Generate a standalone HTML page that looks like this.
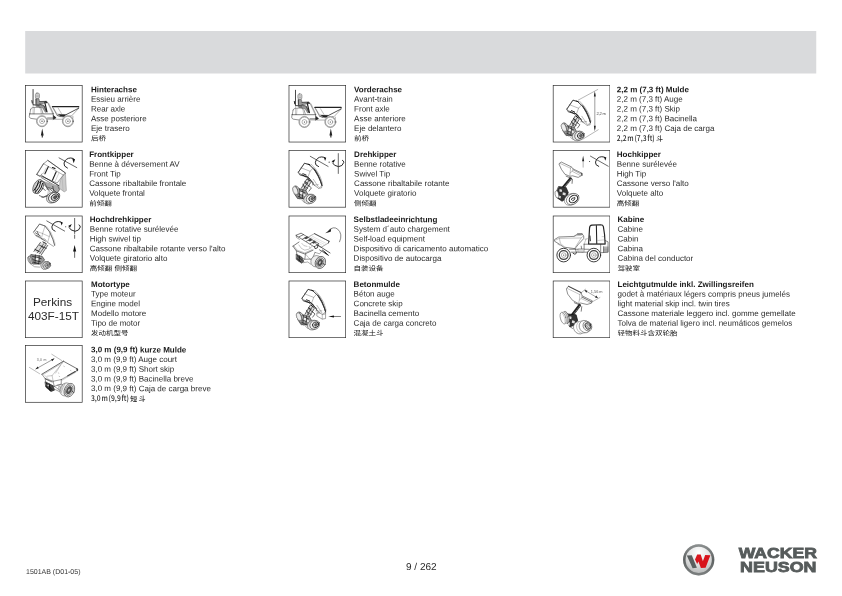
<!DOCTYPE html>
<html><head><meta charset="utf-8">
<style>
html,body{margin:0;padding:0;background:#fff;}
body{width:842px;height:596px;position:relative;overflow:hidden;font-family:"Liberation Sans","Noto Sans CJK SC",sans-serif;color:#222;}
.bar{position:absolute;left:25.3px;top:31px;width:790.7px;height:42.6px;background:#d9dadc;}
.box{position:absolute;width:56.5px;height:56.5px;border:0.65px solid #2a2a2a;background:#fff;box-sizing:content-box;}
.ic{will-change:transform;position:absolute;width:58px;height:58px;overflow:hidden;}
.l{position:absolute;left:0;top:0;height:10px;font-size:8.03px;line-height:10px;white-space:nowrap;color:#2a2a2a;transform-origin:0 0;}
.l b{color:#1a1a1a;}
.l.cn{font-size:7.5px;color:#111;font-weight:400;}
.l.cn2{font-family:"Noto Sans CJK SC",sans-serif;}
.l.cn2 .la{font-size:8px;display:inline-block;transform:scaleX(0.845);transform-origin:0 50%;margin-right:-6.6px;white-space:pre;font-weight:500;word-spacing:-0.9px;}
.l.cn2 .cj{font-size:7px;letter-spacing:1.3px;font-weight:500;}
.foot1{position:absolute;left:25.7px;top:567.6px;font-size:7px;line-height:8px;color:#333;white-space:nowrap;transform:rotate(0.03deg);transform-origin:0 0;}
.foot2{position:absolute;left:406.2px;top:561.1px;font-size:10px;line-height:12px;color:#2a2a2a;white-space:nowrap;transform:rotate(0.03deg);transform-origin:0 0;}
</style></head><body>
<svg style="position:absolute;left:0;top:0" width="842" height="100" viewBox="0 0 842 100"><rect x="25.2" y="31" width="791.05" height="42.5" fill="#d9dadc"/></svg>
<div id="wrap" style="position:absolute;left:0;top:0;width:842px;height:596px;will-change:opacity;opacity:0.999">
<svg class="ic" viewBox="0 0 596 596" style="left:25px;top:85px"><rect x="5.0" y="3.5" width="582.6" height="582.6" fill="#fff" stroke="#2a2a2a" stroke-width="7"/><g fill="none" stroke="#222" stroke-width="5" stroke-linecap="round" stroke-linejoin="round">
<!-- ROPS -->
<path d="M83 46V200" stroke-width="10" stroke="#444"/>
<path d="M83 200V296" stroke-width="4" stroke="#777"/>
<path d="M71 160l4 26" stroke-width="10" stroke="#222"/>
<!-- driver -->
<rect x="107" y="83" width="42" height="56" rx="16" fill="#ddd" stroke="#555" stroke-width="5"/>
<path d="M116 104h24M118 120h20" stroke="#666" stroke-width="4"/>
<path d="M112 142h32l6 30 70-4 8 14-74 12 4 10 40 14 24 56-14 6-26-44-64-14z" fill="#999" stroke="#333" stroke-width="4"/>
<path d="M114 146v50" stroke="#222" stroke-width="7"/>
<path d="M150 170l68-2" stroke="#222" stroke-width="6"/>
<path d="M150 196l44 14 26 60" stroke="#222" stroke-width="7"/>
<path d="M86 204l60 3" stroke-width="9"/>
<path d="M208 172l16 8" stroke-width="12"/>
<!-- steering column / dash -->
<path d="M204 180l22 96" stroke-width="12"/>
<path d="M228 172l58 124M242 186l50 106" stroke-width="4" stroke="#333"/>
<!-- hood -->
<path d="M58 250q4-16 22-18l64-4q16 0 26 18l14 46" stroke="#333"/>
<path d="M98 234l-4 62M150 230q16 16 18 66" stroke-width="4" stroke="#666"/>
<path d="M58 250l-8 46" stroke="#333"/>
<!-- lower body -->
<path d="M48 297H290" stroke-width="6"/>
<path d="M48 297l-4 26q0 14 16 20l56 8M228 350h62v-53M232 338h58" />
<path d="M290 312l30 25-30 18" fill="#222"/>
<!-- rear wheel -->
<circle cx="175" cy="372" r="57" fill="#fff" stroke-width="4"/>
<circle cx="175" cy="372" r="50" stroke-width="4" stroke="#444"/>
<circle cx="175" cy="372" r="25" stroke-width="4" stroke="#444"/>
<circle cx="175" cy="372" r="6" fill="#222" stroke="none"/>
<!-- skip -->
<path d="M282 222H552" stroke-width="12"/>
<path d="M552 226l-4 18-70 74-16 0" stroke-width="4" stroke="#333"/>
<path d="M552 238L424 304" stroke-width="8"/>
<path d="M282 226L330 312L362 324" stroke-width="5" stroke="#333"/>
<path d="M292 236l40 66M340 236l34 56" stroke-width="4" stroke="#555"/>
<path d="M340 300l84 4-24 22-34-4z" fill="#222" stroke-width="3"/>
<path d="M330 314l60 16M302 322v30h90M492 322v20" stroke-width="4" stroke="#333"/>
<!-- front wheel -->
<circle cx="441" cy="372" r="57" fill="#fff" stroke-width="4"/>
<circle cx="441" cy="372" r="50" stroke-width="4" stroke="#444"/>
<circle cx="441" cy="372" r="25" stroke-width="4" stroke="#444"/>
<circle cx="441" cy="372" r="6" fill="#222" stroke="none"/>
</g>
<path d="M177 448L163 520H172V540H183V520H192Z" fill="#222" stroke="none"/></svg>
<div class="l" style="transform:translate(91.00px,85.15px) rotate(0.03deg)"><b>Hinterachse</b></div><div class="l" style="transform:translate(91.00px,94.84px) rotate(0.03deg)">Essieu arrière</div><div class="l" style="transform:translate(91.00px,104.53px) rotate(0.03deg)">Rear axle</div><div class="l" style="transform:translate(91.00px,114.22px) rotate(0.03deg)">Asse posteriore</div><div class="l" style="transform:translate(91.00px,123.91px) rotate(0.03deg)">Eje trasero</div><div class="l cn" style="transform:translate(91.00px,134.55px) rotate(0.03deg) scale(1,0.9)">后桥</div>
<svg class="ic" viewBox="0 0 596 596" style="left:25px;top:150px"><rect x="5.0" y="5.0" width="582.6" height="582.6" fill="#fff" stroke="#2a2a2a" stroke-width="7"/><g fill="none" stroke="#333" stroke-width="5" stroke-linecap="round" stroke-linejoin="round">
<g fill="none" stroke="#222" stroke-linecap="round">
<path d="M350 81L532 181" stroke-width="7"/>
<path d="M436 186Q393 168 401 134Q418 83 470 82Q490 82 503 95" stroke-width="10"/>
<path d="M484 86l30 10-13 40z" fill="#111" stroke="none"/>
</g>

<g transform="translate(61.66,71.93) scale(0.8621)" stroke-width="6">
<!-- side panel -->
<path d="M385 215L410 190L422 400L396 416L336 372L346 290Z" fill="#ccc" stroke="#777" stroke-width="5"/>
<path d="M372 250l10 150" stroke="#999" stroke-width="4"/>
<!-- skip plate -->
<path d="M150 80L200 40L410 190L385 215L312 310L70 210Z" fill="#fff" stroke="#333" stroke-width="6"/>
<path d="M150 80L385 215" stroke="#444" stroke-width="5"/>
<path d="M200 40L410 190" stroke="#222" stroke-width="7"/>
<path d="M70 210L106 232L132 200M150 80L70 210" stroke="#333" stroke-width="6"/>
<path d="M206 116L166 200" stroke="#222" stroke-width="14" stroke-dasharray="12 6"/>
<path d="M300 176L256 276" stroke="#222" stroke-width="14" stroke-dasharray="12 6"/>
<path d="M256 126l30 12" stroke="#111" stroke-width="13"/>
<path d="M130 224L330 340" stroke="#111" stroke-width="10"/>
<path d="M120 244L312 356" stroke="#333" stroke-width="7"/>
<path d="M180 130l-36 70M330 196l-40 90" stroke="#777" stroke-width="4"/>
<!-- chassis -->
<path d="M150 290l40 70 70 20 50 50 30-40-20-50" fill="#aaa" stroke="#222" stroke-width="7"/>
<path d="M160 330l70 90-40 50-60 10M190 380q30-10 60 20t-10 60M140 300l-10 60 40 40M260 350l10 60 60 30" stroke="#222" stroke-width="8"/>
<path d="M200 400l40 20-10 30-40-10z" fill="#ddd" stroke="none"/>
<!-- left wheel -->
<g transform="rotate(27 90 356)">
<ellipse cx="80" cy="356" rx="50" ry="90" fill="#ccc" stroke="#333" stroke-width="7"/>
<ellipse cx="104" cy="356" rx="38" ry="82" fill="#ddd" stroke="#222" stroke-width="7"/>
<path d="M60 296q20 56 0 124M86 282q26 70 0 150M114 296q18 56 0 124" stroke="#111" stroke-width="10"/>
</g>
<path d="M100 460l50 20 50-30" stroke="#333" stroke-width="8"/>
<!-- front wheel -->
<g transform="rotate(-34 270 482)">
<ellipse cx="258" cy="476" rx="78" ry="60" fill="#ddd" stroke="#444" stroke-width="6"/>
<ellipse cx="276" cy="484" rx="72" ry="56" fill="#f2f2f2" stroke="#222" stroke-width="8"/>
<ellipse cx="284" cy="488" rx="48" ry="36" fill="#ccc" stroke="#222" stroke-width="9"/>
<ellipse cx="288" cy="490" rx="24" ry="17" fill="#555" stroke="#222" stroke-width="5"/>
</g>
</g>
</g></svg>
<div class="l" style="transform:translate(89.20px,150.00px) rotate(0.03deg)"><b>Frontkipper</b></div><div class="l" style="transform:translate(89.20px,159.69px) rotate(0.03deg)">Benne à déversement AV</div><div class="l" style="transform:translate(89.20px,169.38px) rotate(0.03deg)">Front Tip</div><div class="l" style="transform:translate(89.20px,179.07px) rotate(0.03deg)">Cassone ribaltabile frontale</div><div class="l" style="transform:translate(89.20px,188.76px) rotate(0.03deg)">Volquete frontal</div><div class="l cn" style="transform:translate(89.20px,199.40px) rotate(0.03deg) scale(1,0.9)">前倾翻</div>
<svg class="ic" viewBox="0 0 596 596" style="left:25px;top:215px"><rect x="5.0" y="10.2" width="582.6" height="582.6" fill="#fff" stroke="#2a2a2a" stroke-width="7"/><g fill="none" stroke="#333" stroke-width="5" stroke-linecap="round" stroke-linejoin="round">
<g transform="translate(-5,-4)"><g fill="none" stroke="#222" stroke-linecap="round">
<path d="M229 65L412 169" stroke-width="7"/>
<path d="M314 171Q274 156 281 126Q296 73 346 71Q372 71 384 84" stroke-width="10"/>
<path d="M368 72l25 8-12 33z" fill="#111" stroke="none"/>
<circle cx="423" cy="125" r="6" fill="#333" stroke="none"/>
<path d="M458 134Q470 164 520 171Q562 168 573 128Q575 112 560 106" stroke-width="10"/>
<path d="M448 116l38-20-17 36z" fill="#111" stroke="none"/>
</g>
<path d="M515 39V194M515 210V244" stroke="#222" stroke-width="7"/></g>
<!-- arrow -->
<path d="M510 436V360" stroke="#222" stroke-width="7"/>
<path d="M510 308l-16 68h32z" fill="#111" stroke="none"/>
<g transform="translate(20.55,61.66) scale(0.8613)" stroke-width="6">
<!-- skip -->
<path d="M80 130L150 36L215 60L270 130L310 220L330 290L315 302L245 256L215 216L170 210L110 180Z" fill="#fff" stroke="#555" stroke-width="6"/>
<path d="M80 130L150 36L215 60" stroke="#444" stroke-width="7"/>
<path d="M215 60L270 130L310 220L330 290" stroke="#444" stroke-width="7"/>
<path d="M232 62L284 130L322 220L338 280" stroke="#888" stroke-width="4"/>
<path d="M215 60L186 150L104 118M186 150L266 186L246 256M266 186L276 142M186 150L172 210" stroke="#777" stroke-width="5"/>
<path d="M100 140l60 40M110 170l50 26M120 124l20 40" stroke="#333" stroke-width="8"/>
<path d="M170 210l50 30" stroke="#333" stroke-width="8"/>
<!-- arms -->
<path d="M156 250L250 290L176 402L78 364Z" fill="#ddd" stroke="none"/>
<path d="M160 256L82 362M248 290L172 402M200 270L124 380M226 280L150 392" stroke="#333" stroke-width="8"/>
<path d="M150 290l80 36M170 300l30 24" stroke="#222" stroke-width="9"/>
<path d="M96 340l50 24M190 250l40 20" stroke="#111" stroke-width="11"/>
<!-- chassis -->
<path d="M50 400l130 20 30 44-50 50-90 0-40-60z" fill="#999" stroke="#222" stroke-width="7"/>
<path d="M60 420l110 30M50 456l110 30M100 404l-4 100M146 414l-6 96M70 490l70 20" stroke="#111" stroke-width="8"/>
<path d="M108 436l30 8-4 28-30-8z" fill="#eee" stroke="none"/>
<g transform="rotate(-20 40 462)">
<ellipse cx="40" cy="462" rx="28" ry="48" fill="#ccc" stroke="#444" stroke-width="6"/>
<path d="M30 430q10 30 0 62M50 424q10 38 0 76" stroke="#444" stroke-width="6"/>
</g>
<path d="M40 510l50 36 60 4" stroke="#555" stroke-width="6"/>
<g transform="rotate(-30 230 528)">
<ellipse cx="216" cy="522" rx="52" ry="44" fill="#ddd" stroke="#444" stroke-width="6"/>
<ellipse cx="236" cy="530" rx="48" ry="42" fill="#eee" stroke="#333" stroke-width="7"/>
<ellipse cx="242" cy="533" rx="32" ry="27" fill="#bbb" stroke="#333" stroke-width="7"/>
<ellipse cx="245" cy="535" rx="15" ry="12" fill="#666" stroke="none"/>
</g>
</g>
</g></svg>
<div class="l" style="transform:translate(89.80px,215.10px) rotate(0.03deg)"><b>Hochdrehkipper</b></div><div class="l" style="transform:translate(89.80px,224.79px) rotate(0.03deg)">Benne rotative surélevée</div><div class="l" style="transform:translate(89.80px,234.48px) rotate(0.03deg)">High swivel tip</div><div class="l" style="transform:translate(89.80px,244.17px) rotate(0.03deg)">Cassone ribaltabile rotante verso l'alto</div><div class="l" style="transform:translate(89.80px,253.86px) rotate(0.03deg)">Volquete giratorio alto</div><div class="l cn" style="transform:translate(89.80px,264.50px) rotate(0.03deg) scale(1,0.9)">高倾翻 侧倾翻</div>
<svg class="ic" viewBox="0 0 596 596" style="left:25px;top:280px"><rect x="5.0" y="10.2" width="582.6" height="582.6" fill="#fff" stroke="#2a2a2a" stroke-width="7"/><g font-family="Liberation Sans, sans-serif" font-size="121" fill="#2a2a2a" text-anchor="middle"><text x="283" y="272">Perkins</text><text x="292" y="415">403F-15T</text></g>
</svg>
<div class="l" style="transform:translate(91.00px,279.90px) rotate(0.03deg)"><b>Motortype</b></div><div class="l" style="transform:translate(91.00px,289.59px) rotate(0.03deg)">Type moteur</div><div class="l" style="transform:translate(91.00px,299.28px) rotate(0.03deg)">Engine model</div><div class="l" style="transform:translate(91.00px,308.97px) rotate(0.03deg)">Modello motore</div><div class="l" style="transform:translate(91.00px,318.66px) rotate(0.03deg)">Tipo de motor</div><div class="l cn" style="transform:translate(91.00px,329.30px) rotate(0.03deg) scale(1,0.9)">发动机型号</div>
<svg class="ic" viewBox="0 0 596 596" style="left:25px;top:345px"><rect x="5.0" y="6.1" width="582.6" height="582.6" fill="#fff" stroke="#2a2a2a" stroke-width="7"/><g fill="none" stroke="#333" stroke-width="5" stroke-linecap="round" stroke-linejoin="round">
<path d="M275 95L378 160M45 230L150 295" stroke="#555" stroke-width="4"/>
<path d="M112 246L298 141" stroke="#333" stroke-width="5"/>
<path d="M108 248l34-8-12-20zM302 139l-34 8 12 20z" fill="#222" stroke="none"/>
<text x="120" y="163" font-family="Liberation Sans, sans-serif" font-size="36" fill="#666" stroke="none" textLength="100">3,0 m</text>
<g transform="translate(133.6,133.6) scale(0.7242)" stroke-width="7">
<!-- skip -->
<path d="M55 230L360 45L560 156L562 176L330 306L330 370L230 402L110 340L100 290Z" fill="#fff" stroke="none"/>
<path d="M55 230L360 45" stroke="#222" stroke-width="10"/>
<path d="M72 236L352 66" stroke="#666" stroke-width="5"/>
<path d="M360 45L560 156" stroke="#222" stroke-width="9"/>
<path d="M552 150l14 8-4 26-14-8z" fill="#222" stroke="#222" stroke-width="6"/>
<path d="M528 192L420 254" stroke="#444" stroke-width="16" stroke-dasharray="4 8"/>
<path d="M562 176L330 306" stroke="#444" stroke-width="7"/>
<path d="M540 200L340 316" stroke="#777" stroke-width="5"/>
<path d="M55 230L100 290L215 330L330 306" stroke="#333" stroke-width="7"/>
<path d="M360 50L200 250L215 330M200 250L130 258M322 100L250 214M100 250l40 40" stroke="#666" stroke-width="5"/>
<path d="M366 116l8 4M288 212l8 4M300 260l8 4M460 176l8 4" stroke="#777" stroke-width="6"/>
<path d="M100 290L110 340L230 402L330 370L330 306M215 330L230 402" stroke="#333" stroke-width="7"/>
<path d="M110 300l90 40" stroke="#222" stroke-width="9"/>
<!-- chassis -->
<path d="M104 340l110 56 20 60-50 20-70-60z" fill="#444" stroke="#111" stroke-width="8"/>
<path d="M120 360l80 90M110 400l70 60M160 370l10 90" stroke="#000" stroke-width="9"/>
<path d="M136 372l20 12-4 20-20-12z" fill="#ccc" stroke="none"/>
<path d="M230 402L330 470M270 386L380 372M230 440l80 40" stroke="#444" stroke-width="7"/>
<path d="M300 400l50 30-10 40-50-20z" fill="#ddd" stroke="#555" stroke-width="5"/>
<!-- wheel -->
<g transform="rotate(24 430 452)">
<ellipse cx="392" cy="462" rx="76" ry="96" fill="#eee" stroke="#444" stroke-width="6"/>
<ellipse cx="446" cy="450" rx="70" ry="100" fill="#f6f6f6" stroke="#222" stroke-width="8"/>
<ellipse cx="444" cy="451" rx="50" ry="78" fill="#ddd" stroke="#333" stroke-width="7"/>
<ellipse cx="442" cy="452" rx="32" ry="56" fill="#555" stroke="#222" stroke-width="6"/>
<ellipse cx="440" cy="453" rx="10" ry="20" fill="#ccc" stroke="none"/>
<path d="M330 420q-8 40 4 90M350 390q-10 60 4 140" stroke="#666" stroke-width="5"/>
</g>
</g>
</g>
</svg>
<div class="l" style="transform:translate(91.00px,345.35px) rotate(0.03deg)"><b>3,0 m (9,9 ft) kurze Mulde</b></div><div class="l" style="transform:translate(91.00px,355.04px) rotate(0.03deg)">3,0 m (9,9 ft) Auge court</div><div class="l" style="transform:translate(91.00px,364.73px) rotate(0.03deg)">3,0 m (9,9 ft) Short skip</div><div class="l" style="transform:translate(91.00px,374.42px) rotate(0.03deg)">3,0 m (9,9 ft) Bacinella breve</div><div class="l" style="transform:translate(91.00px,384.11px) rotate(0.03deg)">3,0 m (9,9 ft) Caja de carga breve</div><div class="l cn2" style="transform:translate(91.00px,393.40px) rotate(0.03deg)"><span class="la">3,0 m (9,9 ft) </span><span class="cj">短斗</span></div>
<svg class="ic" viewBox="0 0 596 596" style="left:288px;top:85px"><rect x="10.2" y="3.5" width="582.6" height="582.6" fill="#fff" stroke="#2a2a2a" stroke-width="7"/><g transform="translate(-6,8)"><g fill="none" stroke="#222" stroke-width="5" stroke-linecap="round" stroke-linejoin="round">
<!-- ROPS -->
<path d="M83 46V200" stroke-width="10" stroke="#444"/>
<path d="M83 200V296" stroke-width="4" stroke="#777"/>
<path d="M71 160l4 26" stroke-width="10" stroke="#222"/>
<!-- driver -->
<rect x="107" y="83" width="42" height="56" rx="16" fill="#ddd" stroke="#555" stroke-width="5"/>
<path d="M116 104h24M118 120h20" stroke="#666" stroke-width="4"/>
<path d="M112 142h32l6 30 70-4 8 14-74 12 4 10 40 14 24 56-14 6-26-44-64-14z" fill="#999" stroke="#333" stroke-width="4"/>
<path d="M114 146v50" stroke="#222" stroke-width="7"/>
<path d="M150 170l68-2" stroke="#222" stroke-width="6"/>
<path d="M150 196l44 14 26 60" stroke="#222" stroke-width="7"/>
<path d="M86 204l60 3" stroke-width="9"/>
<path d="M208 172l16 8" stroke-width="12"/>
<!-- steering column / dash -->
<path d="M204 180l22 96" stroke-width="12"/>
<path d="M228 172l58 124M242 186l50 106" stroke-width="4" stroke="#333"/>
<!-- hood -->
<path d="M58 250q4-16 22-18l64-4q16 0 26 18l14 46" stroke="#333"/>
<path d="M98 234l-4 62M150 230q16 16 18 66" stroke-width="4" stroke="#666"/>
<path d="M58 250l-8 46" stroke="#333"/>
<!-- lower body -->
<path d="M48 297H290" stroke-width="6"/>
<path d="M48 297l-4 26q0 14 16 20l56 8M228 350h62v-53M232 338h58" />
<path d="M290 312l30 25-30 18" fill="#222"/>
<!-- rear wheel -->
<circle cx="175" cy="372" r="57" fill="#fff" stroke-width="4"/>
<circle cx="175" cy="372" r="50" stroke-width="4" stroke="#444"/>
<circle cx="175" cy="372" r="25" stroke-width="4" stroke="#444"/>
<circle cx="175" cy="372" r="6" fill="#222" stroke="none"/>
<!-- skip -->
<path d="M282 222H552" stroke-width="12"/>
<path d="M552 226l-4 18-70 74-16 0" stroke-width="4" stroke="#333"/>
<path d="M552 238L424 304" stroke-width="8"/>
<path d="M282 226L330 312L362 324" stroke-width="5" stroke="#333"/>
<path d="M292 236l40 66M340 236l34 56" stroke-width="4" stroke="#555"/>
<path d="M340 300l84 4-24 22-34-4z" fill="#222" stroke-width="3"/>
<path d="M330 314l60 16M302 322v30h90M492 322v20" stroke-width="4" stroke="#333"/>
<!-- front wheel -->
<circle cx="441" cy="372" r="57" fill="#fff" stroke-width="4"/>
<circle cx="441" cy="372" r="50" stroke-width="4" stroke="#444"/>
<circle cx="441" cy="372" r="25" stroke-width="4" stroke="#444"/>
<circle cx="441" cy="372" r="6" fill="#222" stroke="none"/>
</g>
</g><path d="M177 448L163 520H172V540H183V520H192Z" transform="translate(263,0)" fill="#222" stroke="none"/></svg>
<div class="l" style="transform:translate(354.10px,85.15px) rotate(0.03deg)"><b>Vorderachse</b></div><div class="l" style="transform:translate(354.10px,94.84px) rotate(0.03deg)">Avant-train</div><div class="l" style="transform:translate(354.10px,104.53px) rotate(0.03deg)">Front axle</div><div class="l" style="transform:translate(354.10px,114.22px) rotate(0.03deg)">Asse anteriore</div><div class="l" style="transform:translate(354.10px,123.91px) rotate(0.03deg)">Eje delantero</div><div class="l cn" style="transform:translate(354.10px,134.55px) rotate(0.03deg) scale(1,0.9)">前桥</div>
<svg class="ic" viewBox="0 0 596 596" style="left:288px;top:150px"><rect x="10.2" y="5.0" width="582.6" height="582.6" fill="#fff" stroke="#2a2a2a" stroke-width="7"/><g fill="none" stroke="#333" stroke-width="5" stroke-linecap="round" stroke-linejoin="round">
<g fill="none" stroke="#222" stroke-linecap="round">
<path d="M229 65L412 169" stroke-width="7"/>
<path d="M314 171Q274 156 281 126Q296 73 346 71Q372 71 384 84" stroke-width="10"/>
<path d="M368 72l25 8-12 33z" fill="#111" stroke="none"/>
<circle cx="423" cy="125" r="6" fill="#333" stroke="none"/>
<path d="M458 134Q470 164 520 171Q562 168 573 128Q575 112 560 106" stroke-width="10"/>
<path d="M448 116l38-20-17 36z" fill="#111" stroke="none"/>
</g>
<path d="M517 37V241" stroke="#222" stroke-width="7"/>
<g transform="translate(20.55,102.8) scale(0.8274)" fill="none" stroke="#333" stroke-width="6" stroke-linecap="round" stroke-linejoin="round">
<!-- skip body -->
<path d="M105 150L180 40L240 58Q310 110 350 200Q385 270 398 318L392 346L356 352L300 312L225 212L125 186Z" fill="#fff" stroke="#444" stroke-width="6"/>
<path d="M105 150L180 40L240 58" stroke="#222" stroke-width="9"/>
<path d="M226 52l20 8" stroke="#111" stroke-width="12"/>
<path d="M240 58Q310 110 350 200Q385 270 398 318" stroke="#222" stroke-width="9"/>
<path d="M262 52Q328 108 372 200Q396 262 404 300" stroke="#555" stroke-width="5"/>
<path d="M300 112Q340 160 372 240Q390 290 396 316" stroke="#333" stroke-width="14" stroke-dasharray="4 7"/>
<path d="M135 96L250 140L290 96M250 140L226 204" stroke="#555" stroke-width="5"/>
<path d="M105 150L125 186L225 212L300 312" stroke="#333" stroke-width="7"/>
<path d="M290 240L352 332M398 318L356 352M300 312l50-6" stroke="#555" stroke-width="5"/>
<path d="M150 182l50 30M160 170l40 16M200 196l40 40" stroke="#111" stroke-width="11"/>
<path d="M130 170l24 26M236 224l40 50M220 230l30 50" stroke="#222" stroke-width="8"/>
<path d="M250 250l40 30-10 30" stroke="#444" stroke-width="7"/>
<!-- arms -->
<path d="M200 236L262 276L200 384L134 352Z" fill="#ddd" stroke="none"/>
<path d="M206 240L140 352M256 280L196 380M232 258L170 360" stroke="#333" stroke-width="9"/>
<path d="M190 290l50 34M176 324l44 28M236 320l30 26-30 40M160 300l30 60" stroke="#222" stroke-width="8"/>
<path d="M214 236l36 26M186 270l30 20" stroke="#111" stroke-width="11"/>
<!-- chassis -->
<path d="M84 352l110 24 30 50-50 50-80 4-40-60z" fill="#999" stroke="#222" stroke-width="7"/>
<path d="M96 372l90 36M86 408l100 40M120 360l-4 100M160 372l-6 100M100 450l60 30" stroke="#111" stroke-width="8"/>
<path d="M128 390l28 10-4 30-28-8zM168 420l24 8-4 24-24-8z" fill="#eee" stroke="none"/>
<!-- left wheel -->
<g transform="translate(12,-16) rotate(-20 66 392)">
<ellipse cx="66" cy="392" rx="40" ry="56" fill="#ccc" stroke="#333" stroke-width="6"/>
<ellipse cx="56" cy="392" rx="30" ry="50" fill="#eee" stroke="#666" stroke-width="5"/>
<path d="M76 342q14 50 0 100" stroke="#333" stroke-width="6"/>
</g>
<path d="M70 440l50 44 50 0M150 500l30 30" stroke="#444" stroke-width="6"/>
<!-- front wheel -->
<g transform="rotate(-28 256 482)">
<ellipse cx="240" cy="476" rx="70" ry="58" fill="#e4e4e4" stroke="#444" stroke-width="6"/>
<ellipse cx="262" cy="484" rx="62" ry="54" fill="#f2f2f2" stroke="#333" stroke-width="7"/>
<ellipse cx="272" cy="488" rx="40" ry="34" fill="#ccc" stroke="#222" stroke-width="10"/>
<ellipse cx="276" cy="490" rx="18" ry="15" fill="#666" stroke="#333" stroke-width="5"/>
</g>
</g>
</g></svg>
<div class="l" style="transform:translate(354.10px,150.00px) rotate(0.03deg)"><b>Drehkipper</b></div><div class="l" style="transform:translate(354.10px,159.69px) rotate(0.03deg)">Benne rotative</div><div class="l" style="transform:translate(354.10px,169.38px) rotate(0.03deg)">Swivel Tip</div><div class="l" style="transform:translate(354.10px,179.07px) rotate(0.03deg)">Cassone ribaltabile rotante</div><div class="l" style="transform:translate(354.10px,188.76px) rotate(0.03deg)">Volquete giratorio</div><div class="l cn" style="transform:translate(354.10px,199.40px) rotate(0.03deg) scale(1,0.9)">侧倾翻</div>
<svg class="ic" viewBox="0 0 596 596" style="left:288px;top:215px"><rect x="10.2" y="10.2" width="582.6" height="582.6" fill="#fff" stroke="#2a2a2a" stroke-width="7"/><g fill="none" stroke="#333" stroke-width="5" stroke-linecap="round" stroke-linejoin="round">
<path d="M530 275Q566 195 510 145Q468 112 420 156" stroke="#333" stroke-width="6"/>
<path d="M383 188l62-50-6 34z" fill="#222" stroke="none"/>
<g transform="translate(20.55,133.6) scale(0.7587)" stroke-width="7">
<!-- shovel plate -->
<path d="M232 132L330 76L530 180L520 204L420 262L300 200Z" fill="#fff" stroke="#444" stroke-width="6"/>
<path d="M330 76L530 180" stroke="#222" stroke-width="9"/>
<path d="M300 110l190 100M280 124l180 96M262 140l170 92" stroke="#aaa" stroke-width="4" stroke-dasharray="10 8"/>
<path d="M528 178l-8 26" stroke="#222" stroke-width="9"/>
<!-- skip -->
<path d="M40 246L122 190L330 262L340 330L300 420L200 424L96 372L86 310Z" fill="#fff" stroke="none"/>
<path d="M40 246L122 190M40 246L86 310L200 352L312 300" stroke="#222" stroke-width="8"/>
<path d="M52 240L96 300L200 338L300 292" stroke="#555" stroke-width="5"/>
<path d="M86 310L96 372L200 424L210 352M200 424L300 420L340 330" stroke="#333" stroke-width="7"/>
<path d="M120 230Q150 290 200 300Q260 300 300 250M160 210Q180 250 230 250M260 250l12 22" stroke="#666" stroke-width="5"/>
<path d="M210 352L250 400L290 440" stroke="#555" stroke-width="5"/>
<!-- ladder arm -->
<path d="M84 98L150 70L392 214L332 252Z" fill="#fff" stroke="#222" stroke-width="8"/>
<path d="M120 120l62-30M170 150l62-32M222 180l62-34M274 212l62-34" stroke="#222" stroke-width="8"/>
<path d="M186 134l40-20 30 18-40 22zM238 166l40-22 30 18-40 22zM290 196l40-22 28 18-40 22z" fill="#444" stroke="none"/>
<path d="M84 98l4 30 40 26" stroke="#333" stroke-width="6"/>
<path d="M330 250l10 30 30-10 10-40" stroke="#111" stroke-width="10"/>
<!-- right arm -->
<path d="M350 214L542 338" stroke="#222" stroke-width="10"/>
<path d="M400 296L524 372" stroke="#222" stroke-width="9"/>
<path d="M440 300l60 50M470 330l40 30" stroke="#111" stroke-width="12" stroke-dasharray="8 8"/>
<path d="M340 330l60 20 30-40" stroke="#444" stroke-width="6"/>
<!-- chassis -->
<path d="M88 356l70 36 30 60-30 26-70-50z" fill="#666" stroke="#222" stroke-width="7"/>
<path d="M96 372l70 70M90 410l60 50M130 380l-6 70" stroke="#111" stroke-width="9"/>
<path d="M180 470l60-10 40 30" stroke="#444" stroke-width="6"/>
<!-- wheel -->
<g transform="rotate(24 400 464)">
<ellipse cx="352" cy="470" rx="70" ry="78" fill="#eee" stroke="#444" stroke-width="6"/>
<ellipse cx="412" cy="462" rx="68" ry="84" fill="#f4f4f4" stroke="#222" stroke-width="8"/>
<ellipse cx="410" cy="463" rx="48" ry="64" fill="#ddd" stroke="#333" stroke-width="7"/>
<ellipse cx="408" cy="464" rx="30" ry="46" fill="#555" stroke="#222" stroke-width="6"/>
<ellipse cx="406" cy="465" rx="10" ry="18" fill="#ddd" stroke="none"/>
</g>
</g>
</g>
</svg>
<div class="l" style="transform:translate(353.60px,215.10px) rotate(0.03deg)"><b>Selbstladeeinrichtung</b></div><div class="l" style="transform:translate(353.60px,224.79px) rotate(0.03deg)">System d´auto chargement</div><div class="l" style="transform:translate(353.60px,234.48px) rotate(0.03deg)">Self-load equipment</div><div class="l" style="transform:translate(353.60px,244.17px) rotate(0.03deg)">Dispositivo di caricamento automatico</div><div class="l" style="transform:translate(353.60px,253.86px) rotate(0.03deg)">Dispositivo de autocarga</div><div class="l cn" style="transform:translate(353.60px,264.50px) rotate(0.03deg) scale(1,0.9)">自装设备</div>
<svg class="ic" viewBox="0 0 596 596" style="left:288px;top:280px"><rect x="10.2" y="10.2" width="582.6" height="582.6" fill="#fff" stroke="#2a2a2a" stroke-width="7"/><g fill="none" stroke="#333" stroke-width="5" stroke-linecap="round" stroke-linejoin="round">
<path d="M300 338L386 328L386 396L352 402L300 372Z" fill="#fff" stroke="#444" stroke-width="5"/>
<path d="M352 340v60M300 338l52 6 34-14" stroke="#555" stroke-width="4"/>
<g transform="translate(37,-40)"><g transform="translate(20.55,102.8) scale(0.8274)" fill="none" stroke="#333" stroke-width="6" stroke-linecap="round" stroke-linejoin="round">
<!-- skip body -->
<path d="M105 150L180 40L240 58Q310 110 350 200Q385 270 398 318L392 346L356 352L300 312L225 212L125 186Z" fill="#fff" stroke="#444" stroke-width="6"/>
<path d="M105 150L180 40L240 58" stroke="#222" stroke-width="9"/>
<path d="M226 52l20 8" stroke="#111" stroke-width="12"/>
<path d="M240 58Q310 110 350 200Q385 270 398 318" stroke="#222" stroke-width="9"/>
<path d="M262 52Q328 108 372 200Q396 262 404 300" stroke="#555" stroke-width="5"/>
<path d="M300 112Q340 160 372 240Q390 290 396 316" stroke="#333" stroke-width="14" stroke-dasharray="4 7"/>
<path d="M135 96L250 140L290 96M250 140L226 204" stroke="#555" stroke-width="5"/>
<path d="M105 150L125 186L225 212L300 312" stroke="#333" stroke-width="7"/>
<path d="M290 240L352 332M398 318L356 352M300 312l50-6" stroke="#555" stroke-width="5"/>
<path d="M150 182l50 30M160 170l40 16M200 196l40 40" stroke="#111" stroke-width="11"/>
<path d="M130 170l24 26M236 224l40 50M220 230l30 50" stroke="#222" stroke-width="8"/>
<path d="M250 250l40 30-10 30" stroke="#444" stroke-width="7"/>
<!-- arms -->
<path d="M200 236L262 276L200 384L134 352Z" fill="#ddd" stroke="none"/>
<path d="M206 240L140 352M256 280L196 380M232 258L170 360" stroke="#333" stroke-width="9"/>
<path d="M190 290l50 34M176 324l44 28M236 320l30 26-30 40M160 300l30 60" stroke="#222" stroke-width="8"/>
<path d="M214 236l36 26M186 270l30 20" stroke="#111" stroke-width="11"/>
<!-- chassis -->
<path d="M84 352l110 24 30 50-50 50-80 4-40-60z" fill="#999" stroke="#222" stroke-width="7"/>
<path d="M96 372l90 36M86 408l100 40M120 360l-4 100M160 372l-6 100M100 450l60 30" stroke="#111" stroke-width="8"/>
<path d="M128 390l28 10-4 30-28-8zM168 420l24 8-4 24-24-8z" fill="#eee" stroke="none"/>
<!-- left wheel -->
<g transform="translate(12,-16) rotate(-20 66 392)">
<ellipse cx="66" cy="392" rx="40" ry="56" fill="#ccc" stroke="#333" stroke-width="6"/>
<ellipse cx="56" cy="392" rx="30" ry="50" fill="#eee" stroke="#666" stroke-width="5"/>
<path d="M76 342q14 50 0 100" stroke="#333" stroke-width="6"/>
</g>
<path d="M70 440l50 44 50 0M150 500l30 30" stroke="#444" stroke-width="6"/>
<!-- front wheel -->
<g transform="rotate(-28 256 482)">
<ellipse cx="240" cy="476" rx="70" ry="58" fill="#e4e4e4" stroke="#444" stroke-width="6"/>
<ellipse cx="262" cy="484" rx="62" ry="54" fill="#f2f2f2" stroke="#333" stroke-width="7"/>
<ellipse cx="272" cy="488" rx="40" ry="34" fill="#ccc" stroke="#222" stroke-width="10"/>
<ellipse cx="276" cy="490" rx="18" ry="15" fill="#666" stroke="#333" stroke-width="5"/>
</g>
</g>
</g>
<path d="M540 375H450" stroke="#222" stroke-width="6"/>
<path d="M414 375l58-11v22z" fill="#111" stroke="none"/>
</g></svg>
<div class="l" style="transform:translate(353.60px,279.90px) rotate(0.03deg)"><b>Betonmulde</b></div><div class="l" style="transform:translate(353.60px,289.59px) rotate(0.03deg)">Béton auge</div><div class="l" style="transform:translate(353.60px,299.28px) rotate(0.03deg)">Concrete skip</div><div class="l" style="transform:translate(353.60px,308.97px) rotate(0.03deg)">Bacinella cemento</div><div class="l" style="transform:translate(353.60px,318.66px) rotate(0.03deg)">Caja de carga concreto</div><div class="l cn" style="transform:translate(353.60px,329.30px) rotate(0.03deg) scale(1,0.9)">混凝土斗</div>
<svg class="ic" viewBox="0 0 596 596" style="left:552px;top:85px"><rect x="12.2" y="3.5" width="582.6" height="582.6" fill="#fff" stroke="#2a2a2a" stroke-width="7"/><g fill="none" stroke="#333" stroke-width="5" stroke-linecap="round" stroke-linejoin="round">
<path d="M270 155L470 46M320 555L475 460" stroke="#444" stroke-width="4"/>
<path d="M440 90V450" stroke="#333" stroke-width="5"/>
<path d="M440 62l-10 56h20zM440 474l-10-56h20z" fill="#222" stroke="none"/>
<text x="456" y="304" font-family="Liberation Sans, sans-serif" font-size="42" fill="#444" stroke="none" textLength="98">2,2 m</text>
<g transform="translate(46,20)"><g transform="translate(20.55,102.8) scale(0.8274)" fill="none" stroke="#333" stroke-width="6" stroke-linecap="round" stroke-linejoin="round">
<!-- skip body -->
<path d="M105 150L180 40L240 58Q310 110 350 200Q385 270 398 318L392 346L356 352L300 312L225 212L125 186Z" fill="#fff" stroke="#444" stroke-width="6"/>
<path d="M105 150L180 40L240 58" stroke="#222" stroke-width="9"/>
<path d="M226 52l20 8" stroke="#111" stroke-width="12"/>
<path d="M240 58Q310 110 350 200Q385 270 398 318" stroke="#222" stroke-width="9"/>
<path d="M262 52Q328 108 372 200Q396 262 404 300" stroke="#555" stroke-width="5"/>
<path d="M300 112Q340 160 372 240Q390 290 396 316" stroke="#333" stroke-width="14" stroke-dasharray="4 7"/>
<path d="M135 96L250 140L290 96M250 140L226 204" stroke="#555" stroke-width="5"/>
<path d="M105 150L125 186L225 212L300 312" stroke="#333" stroke-width="7"/>
<path d="M290 240L352 332M398 318L356 352M300 312l50-6" stroke="#555" stroke-width="5"/>
<path d="M150 182l50 30M160 170l40 16M200 196l40 40" stroke="#111" stroke-width="11"/>
<path d="M130 170l24 26M236 224l40 50M220 230l30 50" stroke="#222" stroke-width="8"/>
<path d="M250 250l40 30-10 30" stroke="#444" stroke-width="7"/>
<!-- arms -->
<path d="M200 236L262 276L200 384L134 352Z" fill="#ddd" stroke="none"/>
<path d="M206 240L140 352M256 280L196 380M232 258L170 360" stroke="#333" stroke-width="9"/>
<path d="M190 290l50 34M176 324l44 28M236 320l30 26-30 40M160 300l30 60" stroke="#222" stroke-width="8"/>
<path d="M214 236l36 26M186 270l30 20" stroke="#111" stroke-width="11"/>
<!-- chassis -->
<path d="M84 352l110 24 30 50-50 50-80 4-40-60z" fill="#999" stroke="#222" stroke-width="7"/>
<path d="M96 372l90 36M86 408l100 40M120 360l-4 100M160 372l-6 100M100 450l60 30" stroke="#111" stroke-width="8"/>
<path d="M128 390l28 10-4 30-28-8zM168 420l24 8-4 24-24-8z" fill="#eee" stroke="none"/>
<!-- left wheel -->
<g transform="translate(12,-16) rotate(-20 66 392)">
<ellipse cx="66" cy="392" rx="40" ry="56" fill="#ccc" stroke="#333" stroke-width="6"/>
<ellipse cx="56" cy="392" rx="30" ry="50" fill="#eee" stroke="#666" stroke-width="5"/>
<path d="M76 342q14 50 0 100" stroke="#333" stroke-width="6"/>
</g>
<path d="M70 440l50 44 50 0M150 500l30 30" stroke="#444" stroke-width="6"/>
<!-- front wheel -->
<g transform="rotate(-28 256 482)">
<ellipse cx="240" cy="476" rx="70" ry="58" fill="#e4e4e4" stroke="#444" stroke-width="6"/>
<ellipse cx="262" cy="484" rx="62" ry="54" fill="#f2f2f2" stroke="#333" stroke-width="7"/>
<ellipse cx="272" cy="488" rx="40" ry="34" fill="#ccc" stroke="#222" stroke-width="10"/>
<ellipse cx="276" cy="490" rx="18" ry="15" fill="#666" stroke="#333" stroke-width="5"/>
</g>
</g>
</g>
</g></svg>
<div class="l" style="transform:translate(616.80px,85.15px) rotate(0.03deg)"><b>2,2 m (7,3 ft) Mulde</b></div><div class="l" style="transform:translate(616.80px,94.84px) rotate(0.03deg)">2,2 m (7,3 ft) Auge</div><div class="l" style="transform:translate(616.80px,104.53px) rotate(0.03deg)">2,2 m (7,3 ft) Skip</div><div class="l" style="transform:translate(616.80px,114.22px) rotate(0.03deg)">2,2 m (7,3 ft) Bacinella</div><div class="l" style="transform:translate(616.80px,123.91px) rotate(0.03deg)">2,2 m (7,3 ft) Caja de carga</div><div class="l cn2" style="transform:translate(616.80px,133.20px) rotate(0.03deg)"><span class="la">2,2 m (7,3 ft) </span><span class="cj">斗</span></div>
<svg class="ic" viewBox="0 0 596 596" style="left:552px;top:150px"><rect x="12.2" y="5.0" width="582.6" height="582.6" fill="#fff" stroke="#2a2a2a" stroke-width="7"/><g fill="none" stroke="#333" stroke-width="5" stroke-linecap="round" stroke-linejoin="round">
<path d="M320 176V110" stroke="#777" stroke-width="6"/>
<path d="M320 58l-11 58h22z" fill="#222" stroke="none"/>
<circle cx="386" cy="119" r="5.5" fill="#333" stroke="none"/>
<g transform="translate(166,-2)" stroke="#222">
<path d="M229 65L412 169" stroke-width="7"/>
<path d="M314 171Q274 156 281 126Q296 73 346 71Q372 71 384 84" stroke-width="10"/>
<path d="M368 72l25 8-12 33z" fill="#111" stroke="none"/>
</g>
<g transform="translate(20.55,102.76) scale(0.8287)" stroke-width="6">
<!-- skip -->
<path d="M65 45L90 25L215 85L235 110L350 165L346 190L300 216L230 196L195 202L135 176L95 120Z" fill="#fff" stroke="#333" stroke-width="7"/>
<path d="M74 42L205 102L215 85M205 102L200 160L195 202M235 110L225 140L332 196M225 140L200 160" stroke="#666" stroke-width="5"/>
<path d="M240 124L340 176" stroke="#444" stroke-width="6"/>
<path d="M342 166l6 24" stroke="#222" stroke-width="9"/>
<!-- arm -->
<path d="M205 232L112 342" stroke="#222" stroke-width="34"/>
<path d="M212 236L124 340" stroke="#eee" stroke-width="6" stroke-dasharray="14 16"/>
<path d="M150 200l70 30M228 240l-4 50" stroke="#333" stroke-width="8"/>
<!-- chassis -->
<path d="M60 330L150 340L176 400L162 470L100 512L40 470L30 400Z" fill="#333" stroke="#111" stroke-width="8"/>
<path d="M70 360l30 8-4 30-30-8zM110 400l36 10-4 30-36-10zM60 440l26 8-4 30-26-10z" fill="#ddd" stroke="none"/>
<ellipse cx="36" cy="426" rx="22" ry="46" transform="rotate(-12 36 426)" fill="#fff" stroke="#444" stroke-width="6"/>
<!-- wheel -->
<g transform="rotate(-32 226 486)">
<ellipse cx="214" cy="480" rx="90" ry="68" fill="#fff" stroke="#555" stroke-width="6"/>
<ellipse cx="232" cy="488" rx="84" ry="64" fill="#fff" stroke="#333" stroke-width="7"/>
<ellipse cx="240" cy="492" rx="56" ry="42" fill="#fff" stroke="#111" stroke-width="12"/>
<path d="M214 486q14-20 30-6t24 4M220 506q20 10 40-10" stroke="#111" stroke-width="9"/>
</g>
</g>
</g></svg>
<div class="l" style="transform:translate(616.80px,150.00px) rotate(0.03deg)"><b>Hochkipper</b></div><div class="l" style="transform:translate(616.80px,159.69px) rotate(0.03deg)">Benne surélevée</div><div class="l" style="transform:translate(616.80px,169.38px) rotate(0.03deg)">High Tip</div><div class="l" style="transform:translate(616.80px,179.07px) rotate(0.03deg)">Cassone verso l'alto</div><div class="l" style="transform:translate(616.80px,188.76px) rotate(0.03deg)">Volquete alto</div><div class="l cn" style="transform:translate(616.80px,199.40px) rotate(0.03deg) scale(1,0.9)">高倾翻</div>
<svg class="ic" viewBox="0 0 596 596" style="left:552px;top:215px"><rect x="12.2" y="10.2" width="582.6" height="582.6" fill="#fff" stroke="#2a2a2a" stroke-width="7"/><g fill="none" stroke="#333" stroke-width="5" stroke-linecap="round" stroke-linejoin="round">
<!-- rear body -->
<path d="M545 262L576 276V382L500 388V300" fill="#fff" stroke="#333" stroke-width="6"/>
<path d="M530 330h46M530 342h46M530 354h46M530 366h46M530 378h46M530 325v58" stroke="#333" stroke-width="5"/>
<!-- cabin -->
<path d="M376 298L386 132Q388 106 410 104L500 100Q524 100 528 120L540 200L546 296Z" fill="#fff" stroke="#222" stroke-width="12"/>
<path d="M456 108L460 292" stroke="#222" stroke-width="11"/>
<path d="M390 215l4 50" stroke="#222" stroke-width="10"/>
<path d="M470 262l60-6M515 222h16" stroke="#888" stroke-width="4"/>
<path d="M330 300H546M330 300v50" stroke="#333" stroke-width="6"/>
<path d="M340 250l36-10M330 300l20-54" stroke="#777" stroke-width="4"/>
<!-- skip -->
<path d="M30 250L70 226L225 220L262 196L310 195L326 216L326 242L272 300L236 346L120 330L76 300L30 272Z" fill="#fff" stroke="#333" stroke-width="6"/>
<path d="M40 256L76 240L300 236L318 218M225 220L250 212L300 210M76 240l10 50 40 36M300 236L240 330M60 300l20 10" stroke="#666" stroke-width="4"/>
<path d="M262 196L310 195" stroke="#222" stroke-width="7"/>
<!-- chassis -->
<path d="M180 352H380M196 382H372M240 346l10 40M300 320l10 60" stroke="#333" stroke-width="6"/>
<path d="M216 392l20 12 16-14" stroke="#222" stroke-width="9"/>
<path d="M270 350h60v30h-60z" fill="#ddd" stroke="#555" stroke-width="4"/>
<!-- wheels -->
<circle cx="120" cy="412" r="70" fill="#fff" stroke="#222" stroke-width="9"/>
<circle cx="120" cy="412" r="45" fill="#fff" stroke="#444" stroke-width="13"/>
<circle cx="120" cy="412" r="24" stroke="#666" stroke-width="5"/>
<circle cx="120" cy="412" r="7" fill="#555" stroke="none"/>
<circle cx="430" cy="412" r="70" fill="#fff" stroke="#222" stroke-width="9"/>
<circle cx="430" cy="412" r="45" fill="#fff" stroke="#444" stroke-width="13"/>
<circle cx="430" cy="412" r="24" stroke="#666" stroke-width="5"/>
<circle cx="430" cy="412" r="7" fill="#555" stroke="none"/>
</g>
</svg>
<div class="l" style="transform:translate(617.50px,215.10px) rotate(0.03deg)"><b>Kabine</b></div><div class="l" style="transform:translate(617.50px,224.79px) rotate(0.03deg)">Cabine</div><div class="l" style="transform:translate(617.50px,234.48px) rotate(0.03deg)">Cabin</div><div class="l" style="transform:translate(617.50px,244.17px) rotate(0.03deg)">Cabina</div><div class="l" style="transform:translate(617.50px,253.86px) rotate(0.03deg)">Cabina del conductor</div><div class="l cn" style="transform:translate(617.50px,264.50px) rotate(0.03deg) scale(1,0.9)">驾驶室</div>
<svg class="ic" viewBox="0 0 596 596" style="left:552px;top:280px"><rect x="12.2" y="10.2" width="582.6" height="582.6" fill="#fff" stroke="#2a2a2a" stroke-width="7"/><g fill="none" stroke="#333" stroke-width="5" stroke-linecap="round" stroke-linejoin="round">
<path d="M300 130L346 94M412 226L492 180" stroke="#555" stroke-width="4"/>
<path d="M338 106L468 184" stroke="#444" stroke-width="5"/>
<path d="M334 104l30 6-12 20zM472 186l-30-6 12-20z" fill="#222" stroke="none"/>
<text x="398" y="138" font-family="Liberation Sans, sans-serif" font-size="40" fill="#555" stroke="none" textLength="122">1,56 m</text>
<g transform="translate(61.66,41.1) scale(0.9316)" stroke-width="6">
<!-- skip -->
<path d="M95 50L115 25L255 95L265 130L380 186L366 212L320 226L250 210L225 216L160 180L110 115Z" fill="#fff" stroke="#333" stroke-width="6"/>
<path d="M115 25L255 95" stroke="#222" stroke-width="8"/>
<path d="M100 48L240 116L255 95M240 116L236 176L225 216M265 130L255 160L366 212M255 160L236 176" stroke="#666" stroke-width="4"/>
<path d="M268 146L372 198" stroke="#333" stroke-width="8"/>
<!-- arm -->
<path d="M238 236L152 348" stroke="#222" stroke-width="32"/>
<path d="M244 240L162 346" stroke="#eee" stroke-width="5" stroke-dasharray="12 16"/>
<path d="M180 206l70 30M262 250l-6 50" stroke="#333" stroke-width="7"/>
<!-- chassis -->
<path d="M100 330L200 340L216 400L190 452L130 472L100 420Z" fill="#333" stroke="#111" stroke-width="8"/>
<path d="M120 352l30 8-4 28-30-8zM156 400l30 8-4 28-30-8zM112 420l20 6-4 34-20-8z" fill="#ddd" stroke="none"/>
<path d="M130 470l30 20M190 452l20 20" stroke="#333" stroke-width="7"/>
<!-- left twin wheels -->
<g transform="rotate(-16 72 372)">
<ellipse cx="92" cy="372" rx="30" ry="66" fill="#ccc" stroke="#444" stroke-width="6"/>
<ellipse cx="74" cy="372" rx="30" ry="66" fill="#eee" stroke="#666" stroke-width="5"/>
<ellipse cx="56" cy="372" rx="30" ry="66" fill="#fff" stroke="#555" stroke-width="6"/>
<path d="M60 308q30 64 0 130" stroke="#aaa" stroke-width="5"/>
</g>
<!-- right twin wheels -->
<g transform="rotate(-32 272 474)">
<ellipse cx="236" cy="462" rx="62" ry="70" fill="#fff" stroke="#555" stroke-width="6"/>
<ellipse cx="268" cy="474" rx="62" ry="70" fill="#fff" stroke="#888" stroke-width="5"/>
<ellipse cx="296" cy="484" rx="62" ry="70" fill="#fff" stroke="#444" stroke-width="6"/>
<ellipse cx="322" cy="494" rx="46" ry="56" fill="#eee" stroke="#444" stroke-width="6"/>
<ellipse cx="328" cy="496" rx="30" ry="38" fill="#ccc" stroke="#222" stroke-width="9"/>
<ellipse cx="330" cy="497" rx="12" ry="16" fill="#fff" stroke="#333" stroke-width="5"/>
</g>
</g>
</g></svg>
<div class="l" style="transform:translate(617.50px,279.90px) rotate(0.03deg)"><b>Leichtgutmulde inkl. Zwillingsreifen</b></div><div class="l" style="transform:translate(617.50px,289.59px) rotate(0.03deg)">godet à matériaux légers compris pneus jumelés</div><div class="l" style="transform:translate(617.50px,299.28px) rotate(0.03deg)">light material skip incl. twin tires</div><div class="l" style="transform:translate(617.50px,308.97px) rotate(0.03deg)">Cassone materiale leggero incl. gomme gemellate</div><div class="l" style="transform:translate(617.50px,318.66px) rotate(0.03deg)">Tolva de material ligero incl. neumáticos gemelos</div><div class="l cn" style="transform:translate(617.50px,329.30px) rotate(0.03deg) scale(1,0.9)">轻物料斗含双轮胎</div>
<div class="foot1">1501AB (D01-05)</div>
<div class="foot2">9 / 262</div>
</div>
<svg class="logo" style="position:absolute;left:670px;top:535px;width:160px;height:50px;will-change:transform" viewBox="670 535 160 50">
<defs>
<radialGradient id="lg1" cx="0.5" cy="0.25" r="0.75"><stop offset="0" stop-color="#ffffff"/><stop offset="0.6" stop-color="#dcdddd"/><stop offset="1" stop-color="#b4b6b6"/></radialGradient>
<linearGradient id="lg2" x1="0" y1="0" x2="0" y2="1"><stop offset="0" stop-color="#8a8e8e"/><stop offset="0.5" stop-color="#5e6262"/><stop offset="1" stop-color="#7a7e7e"/></linearGradient>
</defs>
<circle cx="698.7" cy="559.8" r="15.6" fill="#c9cbcb"/>
<circle cx="698.7" cy="559.8" r="14.4" fill="url(#lg1)" stroke="url(#lg2)" stroke-width="2.5"/>
<path d="M686.8 555.4L691.8 555.2L696.9 567.7L692.6 568.2Z" fill="#5a5f5f"/>
<path d="M697.2 554.6L700.7 554.6L702.9 561.2L705.2 555L710.4 555.3L705.6 567.8L700.9 568.1L698.4 561.6L697.2 563.9L695 559.4Z" fill="#d8141c"/>
<g font-family="Liberation Sans, sans-serif" font-weight="bold" font-size="14.6" fill="#565b5b" stroke="#565b5b" stroke-width="0.8" stroke-linejoin="miter">
<text x="738.7" y="557.9" textLength="78.2" lengthAdjust="spacingAndGlyphs">WACKER</text>
<text x="740.1" y="572.2" textLength="76.4" lengthAdjust="spacingAndGlyphs">NEUSON</text>
</g>
</svg>

</body></html>
